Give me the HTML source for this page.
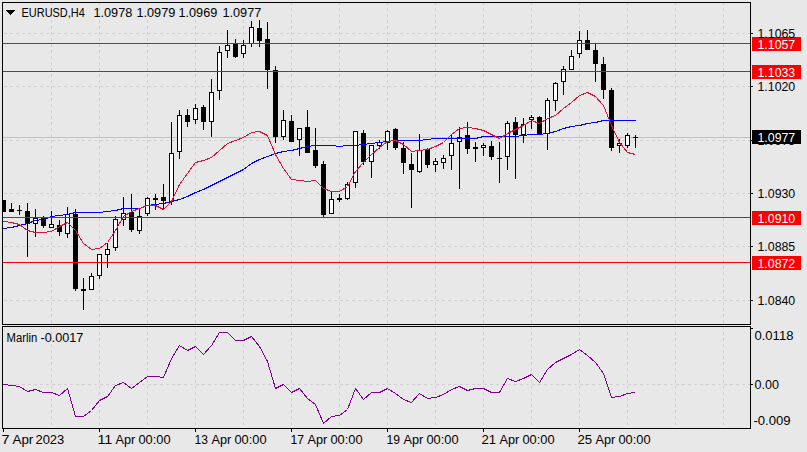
<!DOCTYPE html>
<html><head><meta charset="utf-8"><style>
html,body{margin:0;padding:0;width:807px;height:452px;overflow:hidden;background:#e8e8e8;}
body{position:relative;font-family:"Liberation Sans",sans-serif;}
</style></head><body>
<svg width="807" height="452" viewBox="0 0 807 452" style="position:absolute;left:0;top:0"><defs><clipPath id="cm"><rect x="3" y="3" width="747" height="321"/></clipPath><clipPath id="ci"><rect x="3" y="327" width="747" height="101"/></clipPath></defs><g shape-rendering="crispEdges" stroke="#d0d0d0" stroke-width="1" stroke-dasharray="3,3" fill="none"><line x1="51.5" y1="2" x2="51.5" y2="324"/><line x1="51.5" y1="326" x2="51.5" y2="428"/><line x1="99.5" y1="2" x2="99.5" y2="324"/><line x1="99.5" y1="326" x2="99.5" y2="428"/><line x1="147.5" y1="2" x2="147.5" y2="324"/><line x1="147.5" y1="326" x2="147.5" y2="428"/><line x1="195.5" y1="2" x2="195.5" y2="324"/><line x1="195.5" y1="326" x2="195.5" y2="428"/><line x1="243.5" y1="2" x2="243.5" y2="324"/><line x1="243.5" y1="326" x2="243.5" y2="428"/><line x1="291.5" y1="2" x2="291.5" y2="324"/><line x1="291.5" y1="326" x2="291.5" y2="428"/><line x1="339.5" y1="2" x2="339.5" y2="324"/><line x1="339.5" y1="326" x2="339.5" y2="428"/><line x1="387.5" y1="2" x2="387.5" y2="324"/><line x1="387.5" y1="326" x2="387.5" y2="428"/><line x1="435.5" y1="2" x2="435.5" y2="324"/><line x1="435.5" y1="326" x2="435.5" y2="428"/><line x1="483.5" y1="2" x2="483.5" y2="324"/><line x1="483.5" y1="326" x2="483.5" y2="428"/><line x1="531.5" y1="2" x2="531.5" y2="324"/><line x1="531.5" y1="326" x2="531.5" y2="428"/><line x1="579.5" y1="2" x2="579.5" y2="324"/><line x1="579.5" y1="326" x2="579.5" y2="428"/><line x1="627.5" y1="2" x2="627.5" y2="324"/><line x1="627.5" y1="326" x2="627.5" y2="428"/><line x1="675.5" y1="2" x2="675.5" y2="324"/><line x1="675.5" y1="326" x2="675.5" y2="428"/><line x1="723.5" y1="2" x2="723.5" y2="324"/><line x1="723.5" y1="326" x2="723.5" y2="428"/><line x1="3" y1="33.5" x2="750" y2="33.5" stroke-dashoffset="5"/><line x1="3" y1="86.5" x2="750" y2="86.5" stroke-dashoffset="5"/><line x1="3" y1="140.5" x2="750" y2="140.5" stroke-dashoffset="5"/><line x1="3" y1="193.5" x2="750" y2="193.5" stroke-dashoffset="5"/><line x1="3" y1="246.5" x2="750" y2="246.5" stroke-dashoffset="5"/><line x1="3" y1="300.5" x2="750" y2="300.5" stroke-dashoffset="5"/><line x1="3" y1="384.5" x2="750" y2="384.5" stroke-dashoffset="5"/></g><g clip-path="url(#cm)"><rect x="3" y="137" width="747" height="1" fill="#c0c0c0" shape-rendering="crispEdges"/><g shape-rendering="crispEdges" fill="#000"><rect x="3" y="200" width="1" height="12"/><rect x="1" y="200" width="5" height="12"/><rect x="11" y="203" width="1" height="9"/><rect x="9" y="209" width="5" height="3"/><rect x="19" y="205" width="1" height="10"/><rect x="17" y="210" width="5" height="1"/><rect x="27" y="203" width="1" height="54"/><rect x="25" y="211" width="5" height="13"/><rect x="35" y="209" width="1" height="28"/><rect x="33" y="218" width="5" height="6"/><rect x="34" y="219" width="3" height="4" fill="#fff"/><rect x="43" y="216" width="1" height="12"/><rect x="41" y="217" width="5" height="9"/><rect x="51" y="211" width="1" height="17"/><rect x="49" y="224" width="5" height="4"/><rect x="50" y="225" width="3" height="2" fill="#fff"/><rect x="59" y="220" width="1" height="16"/><rect x="57" y="225" width="5" height="7"/><rect x="67" y="207" width="1" height="31"/><rect x="65" y="214" width="5" height="20"/><rect x="66" y="215" width="3" height="18" fill="#fff"/><rect x="75" y="209" width="1" height="82"/><rect x="73" y="214" width="5" height="75"/><rect x="83" y="278" width="1" height="32"/><rect x="81" y="289" width="5" height="2"/><rect x="91" y="273" width="1" height="17"/><rect x="89" y="276" width="5" height="14"/><rect x="90" y="277" width="3" height="12" fill="#fff"/><rect x="99" y="254" width="1" height="25"/><rect x="97" y="254" width="5" height="22"/><rect x="98" y="255" width="3" height="20" fill="#fff"/><rect x="107" y="243" width="1" height="25"/><rect x="105" y="249" width="5" height="6"/><rect x="106" y="250" width="3" height="4" fill="#fff"/><rect x="115" y="216" width="1" height="35"/><rect x="113" y="219" width="5" height="29"/><rect x="114" y="220" width="3" height="27" fill="#fff"/><rect x="123" y="197" width="1" height="29"/><rect x="121" y="213" width="5" height="7"/><rect x="122" y="214" width="3" height="5" fill="#fff"/><rect x="131" y="194" width="1" height="38"/><rect x="129" y="212" width="5" height="18"/><rect x="139" y="209" width="1" height="25"/><rect x="137" y="216" width="5" height="15"/><rect x="138" y="217" width="3" height="13" fill="#fff"/><rect x="147" y="197" width="1" height="19"/><rect x="145" y="198" width="5" height="16"/><rect x="146" y="199" width="3" height="14" fill="#fff"/><rect x="155" y="194" width="1" height="16"/><rect x="153" y="198" width="5" height="2"/><rect x="163" y="184" width="1" height="26"/><rect x="161" y="197" width="5" height="4"/><rect x="171" y="122" width="1" height="83"/><rect x="169" y="153" width="5" height="49"/><rect x="170" y="154" width="3" height="47" fill="#fff"/><rect x="179" y="110" width="1" height="49"/><rect x="177" y="115" width="5" height="37"/><rect x="178" y="116" width="3" height="35" fill="#fff"/><rect x="187" y="109" width="1" height="18"/><rect x="185" y="115" width="5" height="7"/><rect x="195" y="104" width="1" height="20"/><rect x="193" y="108" width="5" height="12"/><rect x="194" y="109" width="3" height="10" fill="#fff"/><rect x="203" y="105" width="1" height="25"/><rect x="201" y="107" width="5" height="15"/><rect x="211" y="79" width="1" height="58"/><rect x="209" y="92" width="5" height="30"/><rect x="210" y="93" width="3" height="28" fill="#fff"/><rect x="219" y="46" width="1" height="54"/><rect x="217" y="52" width="5" height="39"/><rect x="218" y="53" width="3" height="37" fill="#fff"/><rect x="227" y="30" width="1" height="28"/><rect x="225" y="45" width="5" height="6"/><rect x="226" y="46" width="3" height="4" fill="#fff"/><rect x="235" y="39" width="1" height="19"/><rect x="233" y="44" width="5" height="13"/><rect x="243" y="40" width="1" height="18"/><rect x="241" y="45" width="5" height="9"/><rect x="242" y="46" width="3" height="7" fill="#fff"/><rect x="251" y="21" width="1" height="26"/><rect x="249" y="27" width="5" height="17"/><rect x="250" y="28" width="3" height="15" fill="#fff"/><rect x="259" y="20" width="1" height="27"/><rect x="257" y="28" width="5" height="13"/><rect x="267" y="22" width="1" height="67"/><rect x="265" y="39" width="5" height="31"/><rect x="275" y="66" width="1" height="77"/><rect x="273" y="70" width="5" height="67"/><rect x="283" y="110" width="1" height="30"/><rect x="281" y="120" width="5" height="17"/><rect x="282" y="121" width="3" height="15" fill="#fff"/><rect x="291" y="115" width="1" height="27"/><rect x="289" y="121" width="5" height="21"/><rect x="299" y="128" width="1" height="28"/><rect x="297" y="128" width="5" height="12"/><rect x="298" y="129" width="3" height="10" fill="#fff"/><rect x="307" y="110" width="1" height="43"/><rect x="305" y="127" width="5" height="26"/><rect x="315" y="128" width="1" height="40"/><rect x="313" y="150" width="5" height="16"/><rect x="323" y="161" width="1" height="56"/><rect x="321" y="164" width="5" height="51"/><rect x="331" y="192" width="1" height="22"/><rect x="329" y="199" width="5" height="15"/><rect x="330" y="200" width="3" height="13" fill="#fff"/><rect x="339" y="194" width="1" height="8"/><rect x="337" y="198" width="5" height="2"/><rect x="347" y="182" width="1" height="18"/><rect x="345" y="184" width="5" height="15"/><rect x="346" y="185" width="3" height="13" fill="#fff"/><rect x="355" y="131" width="1" height="57"/><rect x="353" y="131" width="5" height="52"/><rect x="354" y="132" width="3" height="50" fill="#fff"/><rect x="363" y="130" width="1" height="35"/><rect x="361" y="133" width="5" height="29"/><rect x="371" y="145" width="1" height="33"/><rect x="369" y="145" width="5" height="17"/><rect x="370" y="146" width="3" height="15" fill="#fff"/><rect x="379" y="140" width="1" height="9"/><rect x="377" y="142" width="5" height="4"/><rect x="378" y="143" width="3" height="2" fill="#fff"/><rect x="387" y="130" width="1" height="20"/><rect x="385" y="131" width="5" height="12"/><rect x="386" y="132" width="3" height="10" fill="#fff"/><rect x="395" y="128" width="1" height="22"/><rect x="393" y="129" width="5" height="19"/><rect x="403" y="142" width="1" height="32"/><rect x="401" y="148" width="5" height="15"/><rect x="411" y="153" width="1" height="55"/><rect x="409" y="164" width="5" height="6"/><rect x="419" y="134" width="1" height="39"/><rect x="417" y="150" width="5" height="22"/><rect x="418" y="151" width="3" height="20" fill="#fff"/><rect x="427" y="148" width="1" height="20"/><rect x="425" y="149" width="5" height="16"/><rect x="435" y="158" width="1" height="14"/><rect x="433" y="161" width="5" height="4"/><rect x="434" y="162" width="3" height="2" fill="#fff"/><rect x="443" y="155" width="1" height="14"/><rect x="441" y="158" width="5" height="5"/><rect x="442" y="159" width="3" height="3" fill="#fff"/><rect x="451" y="135" width="1" height="35"/><rect x="449" y="143" width="5" height="13"/><rect x="450" y="144" width="3" height="11" fill="#fff"/><rect x="459" y="127" width="1" height="62"/><rect x="457" y="137" width="5" height="5"/><rect x="458" y="138" width="3" height="3" fill="#fff"/><rect x="467" y="122" width="1" height="32"/><rect x="465" y="135" width="5" height="14"/><rect x="475" y="142" width="1" height="20"/><rect x="473" y="147" width="5" height="2"/><rect x="483" y="143" width="1" height="13"/><rect x="481" y="145" width="5" height="3"/><rect x="482" y="146" width="3" height="1" fill="#fff"/><rect x="491" y="141" width="1" height="19"/><rect x="489" y="146" width="5" height="11"/><rect x="499" y="142" width="1" height="41"/><rect x="497" y="158" width="5" height="1"/><rect x="507" y="121" width="1" height="49"/><rect x="505" y="123" width="5" height="34"/><rect x="506" y="124" width="3" height="32" fill="#fff"/><rect x="515" y="117" width="1" height="62"/><rect x="513" y="122" width="5" height="13"/><rect x="523" y="118" width="1" height="25"/><rect x="521" y="124" width="5" height="11"/><rect x="522" y="125" width="3" height="9" fill="#fff"/><rect x="531" y="115" width="1" height="14"/><rect x="529" y="117" width="5" height="3"/><rect x="530" y="118" width="3" height="1" fill="#fff"/><rect x="539" y="116" width="1" height="18"/><rect x="537" y="117" width="5" height="17"/><rect x="547" y="98" width="1" height="52"/><rect x="545" y="100" width="5" height="34"/><rect x="546" y="101" width="3" height="32" fill="#fff"/><rect x="555" y="82" width="1" height="29"/><rect x="553" y="83" width="5" height="18"/><rect x="554" y="84" width="3" height="16" fill="#fff"/><rect x="563" y="66" width="1" height="29"/><rect x="561" y="69" width="5" height="13"/><rect x="562" y="70" width="3" height="11" fill="#fff"/><rect x="571" y="50" width="1" height="20"/><rect x="569" y="56" width="5" height="14"/><rect x="570" y="57" width="3" height="12" fill="#fff"/><rect x="579" y="31" width="1" height="27"/><rect x="577" y="40" width="5" height="14"/><rect x="578" y="41" width="3" height="12" fill="#fff"/><rect x="587" y="30" width="1" height="20"/><rect x="585" y="40" width="5" height="10"/><rect x="595" y="44" width="1" height="38"/><rect x="593" y="50" width="5" height="14"/><rect x="603" y="57" width="1" height="42"/><rect x="601" y="64" width="5" height="26"/><rect x="611" y="88" width="1" height="63"/><rect x="609" y="90" width="5" height="58"/><rect x="619" y="139" width="1" height="14"/><rect x="617" y="143" width="5" height="3"/><rect x="618" y="144" width="3" height="1" fill="#fff"/><rect x="627" y="133" width="1" height="15"/><rect x="625" y="135" width="5" height="11"/><rect x="626" y="136" width="3" height="9" fill="#fff"/><rect x="635" y="135" width="1" height="13"/><rect x="633" y="137" width="5" height="1"/></g><polyline points="3.5,228.5 11.5,227.5 19.5,225.5 27.5,223.5 35.5,220.5 43.5,219.5 51.5,216.5 59.5,215.5 67.5,214.5 75.5,212.5 83.5,212.5 91.5,212.5 99.5,212.5 107.5,211.5 115.5,210.5 123.5,208.5 131.5,208.5 139.5,208.5 147.5,205.5 155.5,204.5 163.5,203.5 171.5,201.5 179.5,199.5 187.5,196.5 195.5,192.5 203.5,189.5 211.5,185.5 219.5,181.5 227.5,177.5 235.5,173.5 243.5,169.5 251.5,163.5 259.5,159.5 267.5,156.5 275.5,153.5 283.5,151.5 291.5,150.5 299.5,148.5 307.5,146.5 315.5,145.5 323.5,145.5 331.5,145.5 339.5,146.5 347.5,145.5 355.5,145.5 363.5,144.5 371.5,143.5 379.5,142.5 387.5,141.5 395.5,140.5 403.5,140.5 411.5,140.5 419.5,140.5 427.5,139.5 435.5,138.5 443.5,138.5 451.5,138.5 459.5,138.5 467.5,138.5 475.5,138.5 483.5,136.5 491.5,136.5 499.5,136.5 507.5,136.5 515.5,136.5 523.5,135.5 531.5,134.5 539.5,134.5 547.5,133.5 555.5,131.5 563.5,128.5 571.5,126.5 579.5,125.5 587.5,123.5 595.5,122.5 603.5,120.5 611.5,120.5 619.5,120.5 627.5,120.5 635.5,120.5" fill="none" stroke="#0000ff" stroke-width="1" shape-rendering="crispEdges"/><polyline points="3.5,221.5 11.5,222.5 19.5,224.5 27.5,230.5 35.5,232.5 43.5,232.5 51.5,231.5 59.5,226.5 67.5,222.5 75.5,230.5 83.5,243.5 91.5,249.5 99.5,248.5 107.5,242.5 115.5,230.5 123.5,216.5 131.5,211.5 139.5,208.5 147.5,205.5 155.5,205.5 163.5,209.5 171.5,201.5 179.5,184.5 187.5,173.5 195.5,162.5 203.5,160.5 211.5,157.5 219.5,150.5 227.5,143.5 235.5,140.5 243.5,137.5 251.5,132.5 259.5,131.5 267.5,135.5 275.5,154.5 283.5,168.5 291.5,179.5 299.5,180.5 307.5,181.5 315.5,180.5 323.5,188.5 331.5,191.5 339.5,191.5 347.5,186.5 355.5,171.5 363.5,162.5 371.5,154.5 379.5,147.5 387.5,141.5 395.5,140.5 403.5,144.5 411.5,151.5 419.5,150.5 427.5,149.5 435.5,146.5 443.5,142.5 451.5,134.5 459.5,128.5 467.5,127.5 475.5,128.5 483.5,130.5 491.5,134.5 499.5,138.5 507.5,133.5 515.5,129.5 523.5,125.5 531.5,120.5 539.5,123.5 547.5,118.5 555.5,115.5 563.5,108.5 571.5,102.5 579.5,95.5 587.5,92.5 595.5,96.5 603.5,105.5 611.5,125.5 619.5,142.5 627.5,152.5 635.5,154.5" fill="none" stroke="#dc143c" stroke-width="1" shape-rendering="crispEdges"/><g shape-rendering="crispEdges" fill="#ff0000"><rect x="3" y="43" width="747" height="1"/><rect x="3" y="71" width="747" height="1"/><rect x="3" y="217" width="747" height="1"/><rect x="3" y="262" width="747" height="1"/></g></g><g clip-path="url(#ci)"><polyline points="3.5,384.5 11.5,385.5 19.5,386.5 27.5,391.5 35.5,389.5 43.5,392.5 51.5,392.5 59.5,395.5 67.5,388.5 75.5,416.5 83.5,416.5 91.5,410.5 99.5,400.5 107.5,396.5 115.5,385.5 123.5,382.5 131.5,388.5 139.5,382.5 147.5,376.5 155.5,376.5 163.5,377.5 171.5,358.5 179.5,345.5 187.5,350.5 195.5,346.5 203.5,354.5 211.5,345.5 219.5,332.5 227.5,332.5 235.5,340.5 243.5,340.5 251.5,336.5 259.5,346.5 267.5,361.5 275.5,388.5 283.5,384.5 291.5,392.5 299.5,388.5 307.5,398.5 315.5,404.5 323.5,423.5 331.5,416.5 339.5,415.5 347.5,409.5 355.5,388.5 363.5,399.5 371.5,392.5 379.5,392.5 387.5,388.5 395.5,393.5 403.5,399.5 411.5,402.5 419.5,393.5 427.5,398.5 435.5,397.5 443.5,394.5 451.5,389.5 459.5,386.5 467.5,390.5 475.5,388.5 483.5,388.5 491.5,392.5 499.5,392.5 507.5,378.5 515.5,381.5 523.5,378.5 531.5,374.5 539.5,382.5 547.5,369.5 555.5,362.5 563.5,358.5 571.5,354.5 579.5,349.5 587.5,355.5 595.5,362.5 603.5,373.5 611.5,397.5 619.5,396.5 627.5,393.5 635.5,392.5" fill="none" stroke="#800094" stroke-width="1" shape-rendering="crispEdges"/></g><g shape-rendering="crispEdges" fill="#000"><rect x="2" y="2" width="749" height="1"/><rect x="2" y="324" width="749" height="1"/><rect x="2" y="2" width="1" height="323"/><rect x="750" y="2" width="1" height="323"/><rect x="2" y="326" width="749" height="1"/><rect x="2" y="428" width="749" height="1"/><rect x="2" y="326" width="1" height="103"/><rect x="750" y="326" width="1" height="103"/><rect x="751" y="33" width="2" height="1"/><rect x="751" y="86" width="2" height="1"/><rect x="751" y="140" width="2" height="1"/><rect x="751" y="193" width="2" height="1"/><rect x="751" y="246" width="2" height="1"/><rect x="751" y="300" width="2" height="1"/><rect x="751" y="328" width="2" height="1"/><rect x="751" y="384" width="2" height="1"/><rect x="3" y="429" width="1" height="3"/><rect x="99" y="429" width="1" height="3"/><rect x="195" y="429" width="1" height="3"/><rect x="291" y="429" width="1" height="3"/><rect x="387" y="429" width="1" height="3"/><rect x="483" y="429" width="1" height="3"/><rect x="579" y="429" width="1" height="3"/></g><rect x="752" y="37" width="49" height="14" fill="#ff0000" shape-rendering="crispEdges"/><rect x="752" y="65" width="49" height="14" fill="#ff0000" shape-rendering="crispEdges"/><rect x="752" y="211" width="49" height="14" fill="#ff0000" shape-rendering="crispEdges"/><rect x="752" y="256" width="49" height="14" fill="#ff0000" shape-rendering="crispEdges"/><rect x="752" y="130" width="49" height="14" fill="#000" shape-rendering="crispEdges"/><g font-family="Liberation Sans" font-size="12px"><text x="757.49" y="38" fill="#000" textLength="37.75" lengthAdjust="spacingAndGlyphs">1.1065</text><text x="757.49" y="91" fill="#000" textLength="37.75" lengthAdjust="spacingAndGlyphs">1.1020</text><text x="757.49" y="145" fill="#000" textLength="37.75" lengthAdjust="spacingAndGlyphs">1.0975</text><text x="757.49" y="198" fill="#000" textLength="37.75" lengthAdjust="spacingAndGlyphs">1.0930</text><text x="757.49" y="251" fill="#000" textLength="37.75" lengthAdjust="spacingAndGlyphs">1.0885</text><text x="757.49" y="305" fill="#000" textLength="37.75" lengthAdjust="spacingAndGlyphs">1.0840</text><text x="757.49" y="49" fill="#fff" textLength="37.75" lengthAdjust="spacingAndGlyphs">1.1057</text><text x="757.49" y="77" fill="#fff" textLength="37.75" lengthAdjust="spacingAndGlyphs">1.1033</text><text x="757.49" y="223" fill="#fff" textLength="37.75" lengthAdjust="spacingAndGlyphs">1.0910</text><text x="757.49" y="268" fill="#fff" textLength="37.75" lengthAdjust="spacingAndGlyphs">1.0872</text><text x="757.49" y="142" fill="#fff" textLength="37.75" lengthAdjust="spacingAndGlyphs">1.0977</text><text x="754.46" y="340" fill="#000" textLength="38.97" lengthAdjust="spacingAndGlyphs">0.0118</text><text x="754.48" y="389" fill="#000" textLength="24.42" lengthAdjust="spacingAndGlyphs">0.00</text><text x="753.45" y="425" fill="#000" textLength="37.22" lengthAdjust="spacingAndGlyphs">-0.009</text><text x="21.54" y="17" fill="#000" textLength="63.24" lengthAdjust="spacingAndGlyphs">EURUSD,H4</text><text x="93.47" y="17" fill="#000" textLength="38.80" lengthAdjust="spacingAndGlyphs">1.0978</text><text x="136.47" y="17" fill="#000" textLength="38.80" lengthAdjust="spacingAndGlyphs">1.0979</text><text x="178.47" y="17" fill="#000" textLength="38.80" lengthAdjust="spacingAndGlyphs">1.0969</text><text x="222.47" y="17" fill="#000" textLength="38.80" lengthAdjust="spacingAndGlyphs">1.0977</text><text x="6.53" y="342" fill="#000" textLength="30.64" lengthAdjust="spacingAndGlyphs">Marlin</text><text x="40.47" y="342" fill="#000" textLength="42.79" lengthAdjust="spacingAndGlyphs">-0.0017</text><text x="1.40" y="444" fill="#000" textLength="8.03" lengthAdjust="spacingAndGlyphs">7</text><text x="12.44" y="444" fill="#000" textLength="20.89" lengthAdjust="spacingAndGlyphs">Apr</text><text x="35.46" y="444" fill="#000" textLength="28.84" lengthAdjust="spacingAndGlyphs">2023</text><text x="97.40" y="444" fill="#000" textLength="14.96" lengthAdjust="spacingAndGlyphs">11</text><text x="115.47" y="444" fill="#000" textLength="19.79" lengthAdjust="spacingAndGlyphs">Apr</text><text x="138.46" y="444" fill="#000" textLength="32.18" lengthAdjust="spacingAndGlyphs">00:00</text><text x="194.50" y="444" fill="#000" textLength="13.45" lengthAdjust="spacingAndGlyphs">13</text><text x="211.47" y="444" fill="#000" textLength="19.79" lengthAdjust="spacingAndGlyphs">Apr</text><text x="234.46" y="444" fill="#000" textLength="32.18" lengthAdjust="spacingAndGlyphs">00:00</text><text x="290.49" y="444" fill="#000" textLength="13.55" lengthAdjust="spacingAndGlyphs">17</text><text x="307.47" y="444" fill="#000" textLength="19.79" lengthAdjust="spacingAndGlyphs">Apr</text><text x="330.46" y="444" fill="#000" textLength="32.18" lengthAdjust="spacingAndGlyphs">00:00</text><text x="386.49" y="444" fill="#000" textLength="13.55" lengthAdjust="spacingAndGlyphs">19</text><text x="403.47" y="444" fill="#000" textLength="19.79" lengthAdjust="spacingAndGlyphs">Apr</text><text x="426.46" y="444" fill="#000" textLength="32.18" lengthAdjust="spacingAndGlyphs">00:00</text><text x="481.45" y="444" fill="#000" textLength="14.66" lengthAdjust="spacingAndGlyphs">21</text><text x="499.47" y="444" fill="#000" textLength="19.79" lengthAdjust="spacingAndGlyphs">Apr</text><text x="522.46" y="444" fill="#000" textLength="32.18" lengthAdjust="spacingAndGlyphs">00:00</text><text x="577.45" y="444" fill="#000" textLength="14.66" lengthAdjust="spacingAndGlyphs">25</text><text x="595.47" y="444" fill="#000" textLength="19.79" lengthAdjust="spacingAndGlyphs">Apr</text><text x="618.46" y="444" fill="#000" textLength="32.18" lengthAdjust="spacingAndGlyphs">00:00</text></g><g fill="#000" shape-rendering="crispEdges"><rect x="6" y="10" width="9" height="1"/><rect x="7" y="11" width="7" height="1"/><rect x="8" y="12" width="5" height="1"/><rect x="9" y="13" width="3" height="1"/><rect x="10" y="14" width="1" height="1"/></g></svg>
</body></html>
